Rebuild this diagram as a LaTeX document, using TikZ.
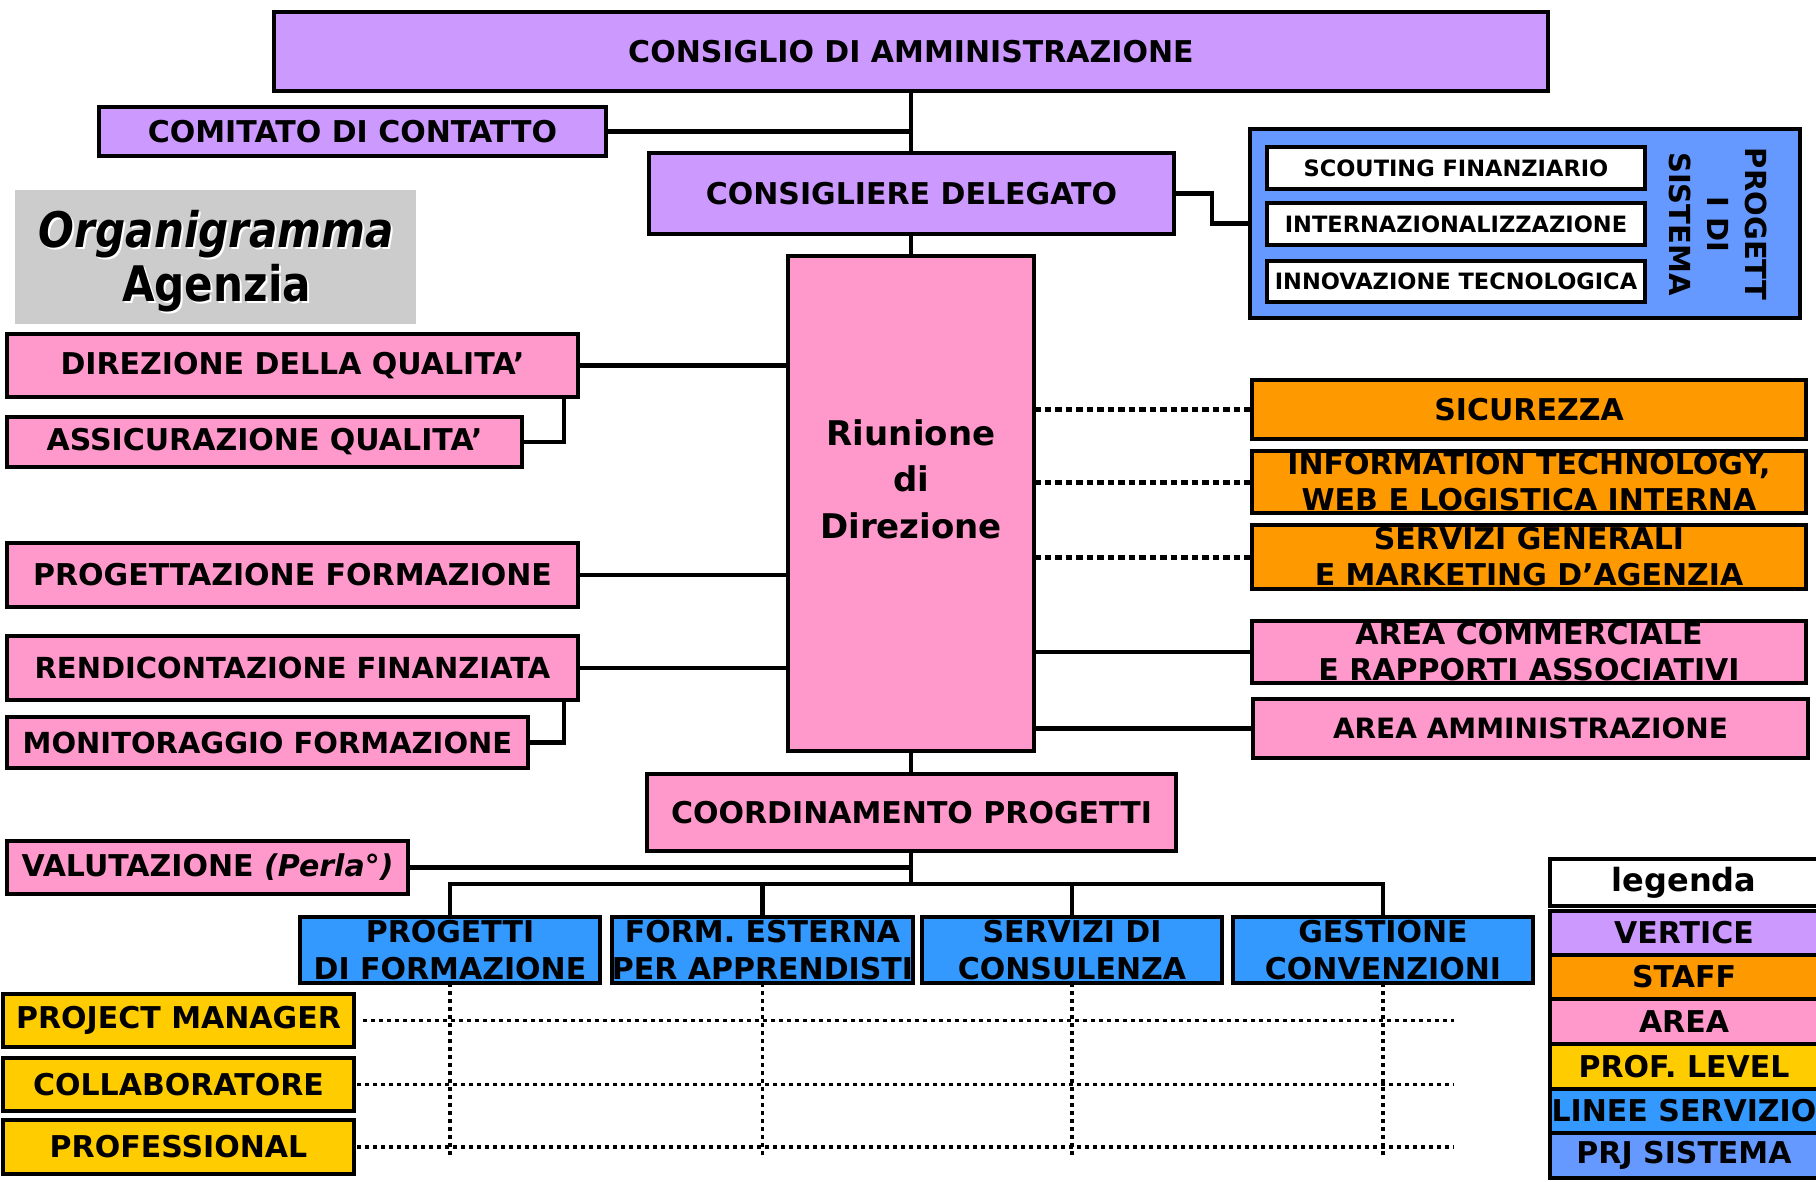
\documentclass[tikz,border=0pt]{standalone}
\usepackage{fontspec}
\setmainfont{DejaVu Sans}
\definecolor{cvert}{HTML}{CC99FF}
\definecolor{cstaff}{HTML}{FF9900}
\definecolor{carea}{HTML}{FF99CC}
\definecolor{cprof}{HTML}{FFCC00}
\definecolor{clinee}{HTML}{3399FF}
\definecolor{cprj}{HTML}{6699FF}
\definecolor{ctitle}{HTML}{CCCCCC}
\tikzset{
  box/.style={draw=black, line width=3.5pt, inner sep=0pt, outer sep=0pt, align=center,
    font=\fontsize{30}{36}\selectfont\bfseries},
  vert/.style={box, fill=cvert},
  staff/.style={box, fill=cstaff},
  area/.style={box, fill=carea},
  prof/.style={box, fill=cprof},
  linee/.style={box, fill=clinee, font=\fontsize{30}{37}\selectfont\bfseries},
  prjbox/.style={box, fill=cprj},
  wbox/.style={box, fill=white},
  small/.style={font=\fontsize{22.5}{27}\selectfont\bfseries},
  titlebox/.style={fill=ctitle, inner sep=0pt, outer sep=0pt},
  titletext/.style={align=center, inner sep=0pt, font=\fontsize{49}{54}\selectfont\bfseries},
  conn/.style={line width=4.5pt},
  staffdot/.style={line width=5pt, dash pattern=on 6.5pt off 4pt},
  griddot/.style={line width=3.5pt, dash pattern=on 3.5pt off 4.5pt},
  border/.style={line width=3.5pt}
}
\newcommand\bx[7]{\node[#6, minimum width={#4pt-#2pt}, minimum height={#5pt-#3pt}] (#1) at ({(#2+#4)/2},{(#3+#5)/2}) {#7};}
\newcommand\narrow[1]{\scalebox{0.86}[1]{#1}}
\begin{document}
\begin{tikzpicture}[x=1pt,y=-1pt]
\useasboundingbox (0,0) rectangle (1816,1182);
\fill[white] (0,0) rectangle (1816,1182);

% top
\bx{cda}{274}{12}{1548}{91}{vert}{CONSIGLIO DI AMMINISTRAZIONE}
\bx{cc}{99}{107}{606}{156}{vert}{COMITATO DI CONTATTO}
\bx{cd}{649}{153}{1174}{234}{vert}{CONSIGLIERE DELEGATO}

% progetti di sistema
\bx{prj}{1250}{129}{1800}{318}{prjbox}{}
\bx{sf}{1267}{147}{1645}{189}{wbox,small}{SCOUTING FINANZIARIO}
\bx{inz}{1267}{203}{1645}{245}{wbox,small}{INTERNAZIONALIZZAZIONE}
\bx{itec}{1267}{261}{1645}{302}{wbox,small}{INNOVAZIONE TECNOLOGICA}
\node[rotate=-90, align=center, inner sep=0pt, font=\fontsize{29}{38}\selectfont\bfseries] (prjt) at (1718,224) {PROGETT\\I DI\\SISTEMA};

% title
\bx{title}{15}{190}{416}{324}{titlebox}{}
\node[titletext, text=white] (titleshadow) at (218.5,263.5) {\narrow{\itshape Organigramma}\\\narrow{Agenzia}};
\node[titletext] (titletxt) at (216.5,261.5) {\narrow{\itshape Organigramma}\\\narrow{Agenzia}};

% left areas
\bx{dq}{7}{334}{578}{397}{area}{DIREZIONE DELLA QUALITA’}
\bx{aq}{7}{417}{522}{467}{area}{ASSICURAZIONE QUALITA’}
\bx{pf}{7}{543}{578}{607}{area}{PROGETTAZIONE FORMAZIONE}
\bx{rf}{7}{636}{578}{700}{area,font=\fontsize{29}{35}\selectfont\bfseries}{RENDICONTAZIONE FINANZIATA}
\bx{mf}{7}{717}{528}{768}{area,font=\fontsize{29}{35}\selectfont\bfseries}{MONITORAGGIO FORMAZIONE}

% riunione
\bx{rd}{788}{256}{1034}{751}{area}{}
\node[align=center, inner sep=0pt, font=\fontsize{34}{46.5}\selectfont\bfseries] (rdt) at (911,479) {Riunione\\di\\Direzione};

% right staff / areas
\bx{sic}{1252}{380}{1806}{439}{staff}{SICUREZZA}
\bx{it}{1252}{451}{1806}{513}{staff}{INFORMATION TECHNOLOGY,\\WEB E LOGISTICA INTERNA}
\bx{sg}{1252}{525}{1806}{589}{staff}{SERVIZI GENERALI\\E MARKETING D’AGENZIA}
\bx{ac}{1252}{621}{1806}{683}{area}{AREA COMMERCIALE\\E RAPPORTI ASSOCIATIVI}
\bx{aa}{1253}{699}{1808}{758}{area,font=\fontsize{28}{34}\selectfont\bfseries}{AREA AMMINISTRAZIONE}

% coordinamento
\bx{cp}{647}{774}{1176}{851}{area}{COORDINAMENTO PROGETTI}
\bx{val}{7}{841}{408}{894}{area}{VALUTAZIONE {\itshape (Perla°)}}

% service lines
\bx{l1}{300}{917}{600}{983}{linee}{PROGETTI\\DI FORMAZIONE}
\bx{l2}{612}{917}{913}{983}{linee}{FORM. ESTERNA\\PER APPRENDISTI}
\bx{l3}{922}{917}{1222}{983}{linee}{SERVIZI DI\\CONSULENZA}
\bx{l4}{1233}{917}{1533}{983}{linee}{GESTIONE\\CONVENZIONI}

% professional levels
\bx{pm}{3}{994}{354}{1047}{prof}{PROJECT MANAGER}
\bx{co}{3}{1058}{354}{1111}{prof}{COLLABORATORE}
\bx{pr}{3}{1120}{354}{1174}{prof}{PROFESSIONAL}

% legend
\bx{lg}{1550}{859}{1818}{906}{wbox,font=\fontsize{32}{38}\selectfont\bfseries}{legenda}
\bx{lv}{1550}{911}{1818}{955}{vert}{VERTICE}
\bx{ls}{1550}{955}{1818}{999}{staff}{STAFF}
\bx{la}{1550}{999}{1818}{1044}{area}{AREA}
\bx{lp}{1550}{1044}{1818}{1089}{prof}{PROF. LEVEL}
\bx{ll}{1550}{1089}{1818}{1133}{linee}{LINEE SERVIZIO}
\bx{lj}{1550}{1133}{1818}{1178}{prjbox}{PRJ SISTEMA}

% redraw borders over overflowing text
\foreach \n in {it,sg,ac,l1,l2,l3,l4}{
  \draw[border] (\n.south west) rectangle (\n.north east);
}

% coordinates
\coordinate (bus) at (911,884);
\coordinate (gridend) at (1454,0);
\coordinate (gridbot) at (0,1159);

% connectors
\draw[conn] (cda.south) -- (cda.south |- cd.north);
\draw[conn] (cc.east) -- (cc.east -| cda.south);
\draw[conn] (cd.east) -- ++(38,0) |- (prj.west);
\draw[conn] (cd.south -| rd.north) -- (rd.north);
\draw[conn] (dq.east) -- (dq.east -| rd.west);
\draw[conn] ([xshift=-14pt]dq.south east) |- (aq.east);
\draw[conn] (pf.east) -- (pf.east -| rd.west);
\draw[conn] (rf.east) -- (rf.east -| rd.west);
\draw[conn] ([xshift=-14pt]rf.south east) |- (mf.east);
\draw[staffdot] (rd.east |- sic.west) -- (sic.west);
\draw[staffdot] (rd.east |- it.west) -- (it.west);
\draw[staffdot] (rd.east |- sg.west) -- (sg.west);
\draw[conn] (rd.east |- ac.west) -- (ac.west);
\draw[conn] (rd.east |- aa.west) -- (aa.west);
\draw[conn] (rd.south) -- (rd.south |- cp.north);
\draw[conn] (rd.south |- cp.south) -- (bus);
\draw[conn] (val.east) -- (val.east -| bus);
\draw[conn] (l1.north) -- (l1.north |- bus) -- (l4.north |- bus) -- (l4.north);
\draw[conn] (l2.north) -- (l2.north |- bus);
\draw[conn] (l3.north) -- (l3.north |- bus);

% professional grid
\draw[griddot] ([xshift=9pt]pm.east) -- (pm.east -| gridend);
\draw[griddot] ([xshift=3pt]co.east) -- (co.east -| gridend);
\draw[griddot] ([xshift=3pt]pr.east) -- (pr.east -| gridend);
\foreach \n in {l1,l2,l3,l4}{
  \draw[griddot] (\n.south) -- (\n.south |- gridbot);
}
\end{tikzpicture}
\end{document}
